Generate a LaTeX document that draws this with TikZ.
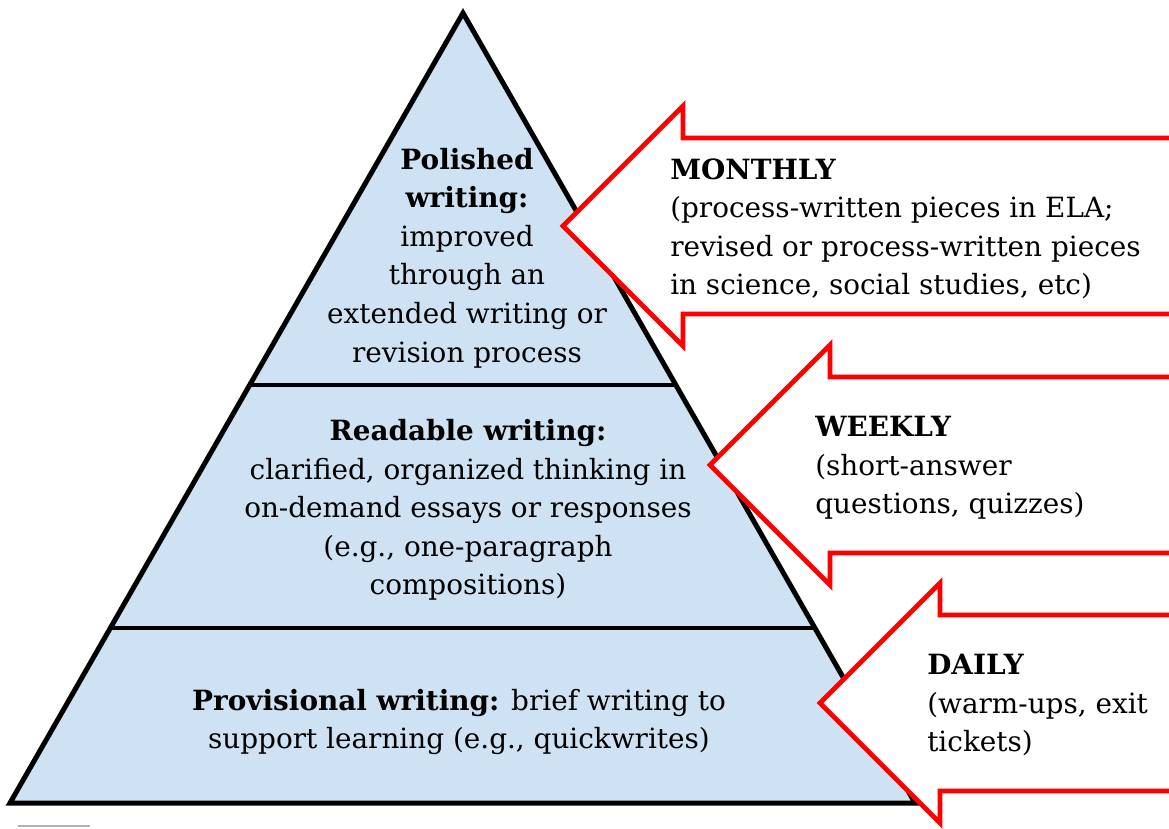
\documentclass[tikz,border=0pt]{standalone}
\usepackage{fontspec}
\setmainfont{DejaVu Serif}
\usetikzlibrary{calc}
\definecolor{tierblue}{HTML}{CFE2F3}
\tikzset{
tier/.style={font=\fontsize{20.9}{28.9}\selectfont, align=center, inner sep=0pt},
freq/.style={font=\fontsize{20.9}{28.9}\selectfont, align=left, anchor=west, inner sep=0pt},
freqarrow/.style={draw=red, fill=white, line width=3.6pt, miter limit=10}
}
\newcommand{\freqarrow}[1]{%
  \filldraw[freqarrow] (#1) -- ++(120,-120) -- ++(0,32) -- ++(700,0)
    -- ++(0,176) -- ++(-700,0) -- ++(0,32) -- cycle;}

\begin{document}
\begin{tikzpicture}[x=0.75pt, y=-0.75pt]
	\path[use as bounding box, clip] (0,0) rectangle (1169,828);
	\coordinate (apex) at (463,13);
	\coordinate (bl) at (10,803);
	\coordinate (br) at (915,803);
	\fill[tierblue] (apex) -- (bl) -- (br) -- cycle;
	\draw[line width=3pt] ($(apex)!0.471!(bl)$) -- ($(apex)!0.471!(br)$);
	\draw[line width=3pt] ($(apex)!0.779!(bl)$) -- ($(apex)!0.779!(br)$);
	\draw[line width=3.75pt] (apex) -- (bl) -- (br) -- cycle;
	\draw[gray!60, line width=1.5pt] (18,826) -- (90,826);

	\coordinate (monthly tip) at (563,226);
	\coordinate (weekly tip) at (710,465);
	\coordinate (daily tip) at (820,703);
	\freqarrow{monthly tip}
	\freqarrow{weekly tip}
	\freqarrow{daily tip}

	\node[tier] (polished) at (467,258) {\textbf{Polished}\\\textbf{writing:}\\improved\\through an\\extended writing or\\revision process};
	\node[tier] (readable) at (468,510) {\textbf{Readable writing:}\\clarified, organized thinking in\\on-demand essays or responses\\(e.g., one-paragraph\\compositions)};
	\node[tier] (provisional) at (459,722) {\textbf{Provisional writing:} brief writing to\\support learning (e.g., quickwrites)};

	\node[freq] (monthly) at (670,229) {\textbf{MONTHLY}\\(process-written pieces in ELA;\\revised or process-written pieces\\in science, social studies, etc)};
	\node[freq] (weekly) at (815,468) {\textbf{WEEKLY}\\(short-answer\\questions, quizzes)};
	\node[freq] (daily) at (927,705) {\textbf{DAILY}\\(warm-ups, exit\\tickets)};
\end{tikzpicture}
\end{document}
